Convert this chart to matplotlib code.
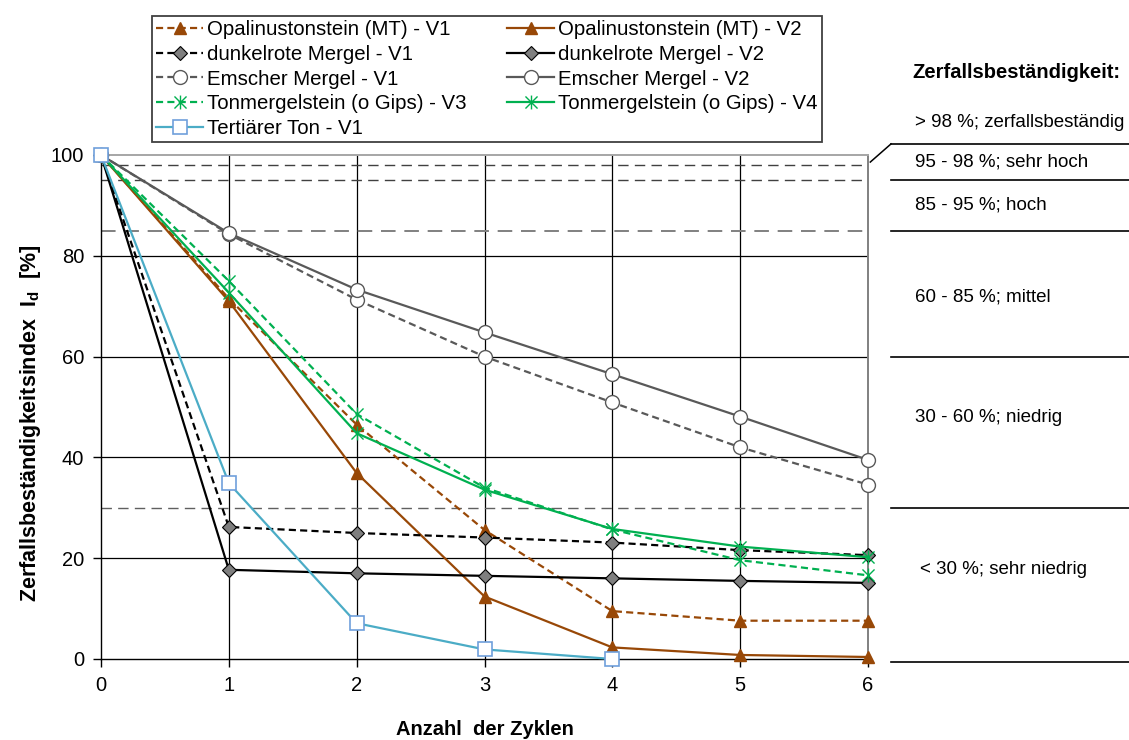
import matplotlib
matplotlib.use("Agg")
import matplotlib.pyplot as plt
from matplotlib.path import Path

plt.rcParams.update({
    "font.family": ["Liberation Sans", "DejaVu Sans"],
    "mathtext.fontset": "custom",
    "mathtext.rm": "Liberation Sans",
    "mathtext.it": "Liberation Sans:italic",
    "mathtext.bf": "Liberation Sans:bold",
})

# ---------------------------------------------------------------------------
# Data
# ---------------------------------------------------------------------------
cycles = [0, 1, 2, 3, 4, 5, 6]
opal_v1 = [100, 71.5, 46.5, 25.6, 9.5, 7.6, 7.6]
opal_v2 = [100, 71.0, 36.9, 12.4, 2.3, 0.8, 0.4]
dunkel_v1 = [100, 26.2, 25.0, 24.1, 23.1, 21.6, 20.6]
dunkel_v2 = [100, 17.7, 17.0, 16.5, 16.0, 15.5, 15.1]
emscher_v1 = [100, 84.3, 71.3, 60.0, 50.9, 42.0, 34.6]
emscher_v2 = [100, 84.5, 73.3, 64.8, 56.5, 48.1, 39.5]
ton_v3 = [100, 75.0, 48.6, 34.0, 25.7, 19.6, 16.6]
ton_v4 = [100, 72.7, 44.8, 33.6, 25.8, 22.3, 20.2]
tert_cycles = [0, 1, 2, 3, 4]
tert_v1 = [100, 34.9, 7.1, 1.9, 0.0]

class_bounds = [98, 95, 85, 60, 30, 0]
class_labels = ["> 98 %; zerfallsbeständig", "95 - 98 %; sehr hoch",
                "85 - 95 %; hoch", "60 - 85 %; mittel",
                "30 - 60 %; niedrig", "< 30 %; sehr niedrig"]

x_ticks = [0, 1, 2, 3, 4, 5, 6]
y_ticks = [0, 20, 40, 60, 80, 100]

# ---------------------------------------------------------------------------
# Style
# ---------------------------------------------------------------------------
BROWN = "#984807"
GREY = "#595959"
GREEN = "#00B050"
TEAL = "#4BACC6"
DASH = (0, (3.2, 1.9))

star = Path([(-1, -1), (1, 1), (-1, 1), (1, -1), (0, -1.15), (0, 1.15)],
            [Path.MOVETO, Path.LINETO, Path.MOVETO, Path.LINETO,
             Path.MOVETO, Path.LINETO])

fig = plt.figure(figsize=(11.29, 7.40), dpi=100)
ax = fig.add_axes([101 / 1129, 1 - 659 / 740, 767 / 1129, 504 / 740])

# grid + class lines
for xv in x_ticks[1:-1]:
    ax.axvline(xv, color="black", lw=0.9, zorder=1)
for yv in y_ticks[1:-1]:
    ax.axhline(yv, color="black", lw=0.9, zorder=1)
dash_style = {98: ("#404040", 1.0), 95: ("#404040", 1.0),
              85: ("#808080", 1.4), 30: ("#606060", 1.0)}
for b in class_bounds:
    if b in dash_style:
        c, w = dash_style[b]
        ax.axhline(b, color=c, lw=w, ls=(0, (7.5, 4.5)), zorder=1)

common = dict(lw=1.6, clip_on=False, zorder=3)
series = []
series.append(ax.plot(cycles, opal_v1, ls=DASH, color=BROWN, marker="^", ms=8.5,
                      mfc=BROWN, mec=BROWN, label="Opalinustonstein (MT) - V1", **common)[0])
series.append(ax.plot(cycles, opal_v2, ls="-", color=BROWN, marker="^", ms=8.5,
                      mfc=BROWN, mec=BROWN, label="Opalinustonstein (MT) - V2", **common)[0])
series.append(ax.plot(cycles, dunkel_v1, ls=DASH, color="black", marker="D", ms=7,
                      mfc="#7F7F7F", mec="black", mew=0.8,
                      label="dunkelrote Mergel - V1", **common)[0])
series.append(ax.plot(cycles, dunkel_v2, ls="-", color="black", marker="D", ms=7,
                      mfc="#7F7F7F", mec="black", mew=0.8,
                      label="dunkelrote Mergel - V2", **common)[0])
series.append(ax.plot(cycles, emscher_v1, ls=DASH, color=GREY, marker="o", ms=10,
                      mfc="white", mec=GREY, mew=1.0,
                      label="Emscher Mergel - V1", **common)[0])
series.append(ax.plot(cycles, emscher_v2, ls="-", color=GREY, marker="o", ms=10,
                      mfc="white", mec=GREY, mew=1.0,
                      label="Emscher Mergel - V2", **common)[0])
series.append(ax.plot(cycles, ton_v3, ls=DASH, color=GREEN, marker=star, ms=10,
                      mfc="none", mec=GREEN, mew=1.0,
                      label="Tonmergelstein (o Gips) - V3", **common)[0])
series.append(ax.plot(cycles, ton_v4, ls="-", color=GREEN, marker=star, ms=10,
                      mfc="none", mec=GREEN, mew=1.0,
                      label="Tonmergelstein (o Gips) - V4", **common)[0])
series.append(ax.plot(tert_cycles, tert_v1, ls="-", color=TEAL, marker="s", ms=10,
                      mfc="white", mec="#6F9FDB", mew=1.2,
                      label="Tertiärer Ton - V1", **common)[0])

ax.set_xlim(0, 6)
ax.set_ylim(0, 100)
ax.set_xticks(x_ticks)
ax.set_yticks(y_ticks)
ax.tick_params(direction="out", length=6, width=1, labelsize=14.5, pad=6)

for side in ("left", "bottom"):
    ax.spines[side].set_color("black")
    ax.spines[side].set_linewidth(1.0)
ax.spines["top"].set_color("#A6A6A6")
ax.spines["top"].set_linewidth(1.4)
ax.spines["right"].set_color("#808080")
ax.spines["right"].set_linewidth(1.4)

ax.set_xlabel("Anzahl  der Zyklen", fontsize=14.5, fontweight="bold")
ax.xaxis.set_label_coords(0.5, -0.121)
ax.set_ylabel(r"Zerfallsbeständigkeitsindex  $\mathregular{I_d}$  [%]",
              fontsize=15.5, fontweight="bold")
ax.yaxis.set_label_coords(-0.076, 0.468)

# legend (row-wise reading: V1 | V2)
order = [0, 2, 4, 6, 8, 1, 3, 5, 7]
handles = [series[i] for i in order]
leg = fig.legend(handles, [h.get_label() for h in handles], ncol=2,
                 loc="upper left", bbox_to_anchor=(152 / 1129, 1 - 16 / 740),
                 frameon=True, fancybox=False, edgecolor="#404040",
                 framealpha=1, fontsize=14.7, handlelength=2.3,
                 handletextpad=0.2, columnspacing=2.0, labelspacing=0.28,
                 borderpad=0.2, borderaxespad=0)
leg.get_frame().set_linewidth(1.3)

# classification panel on the right
tr = ax.get_yaxis_transform()
x0, x1 = 1.030, 1.345
top_line = 102.2
ax.plot([1.003, x0], [98.6, top_line], color="black", lw=1.1,
        transform=tr, clip_on=False)
for b in class_bounds:
    yb = top_line if b == class_bounds[0] else b
    if b == 0:
        yb = -0.6
    ax.plot([x0, x1], [yb, yb], color="black", lw=1.2, transform=tr, clip_on=False)

label_y = [106.5, 98.6, 90.0, 71.8, 48.0, 17.7]
label_x = [1.061, 1.061, 1.061, 1.061, 1.061, 1.068]
for lab, lx, ly in zip(class_labels, label_x, label_y):
    ax.text(lx, ly, lab, transform=tr, fontsize=13.5, va="center", ha="left")

fig.text(912 / 1129, 1 - 73 / 740, "Zerfallsbeständigkeit:", fontsize=14.5,
         fontweight="bold", va="center", ha="left")

fig.savefig("out.png", dpi=100)
